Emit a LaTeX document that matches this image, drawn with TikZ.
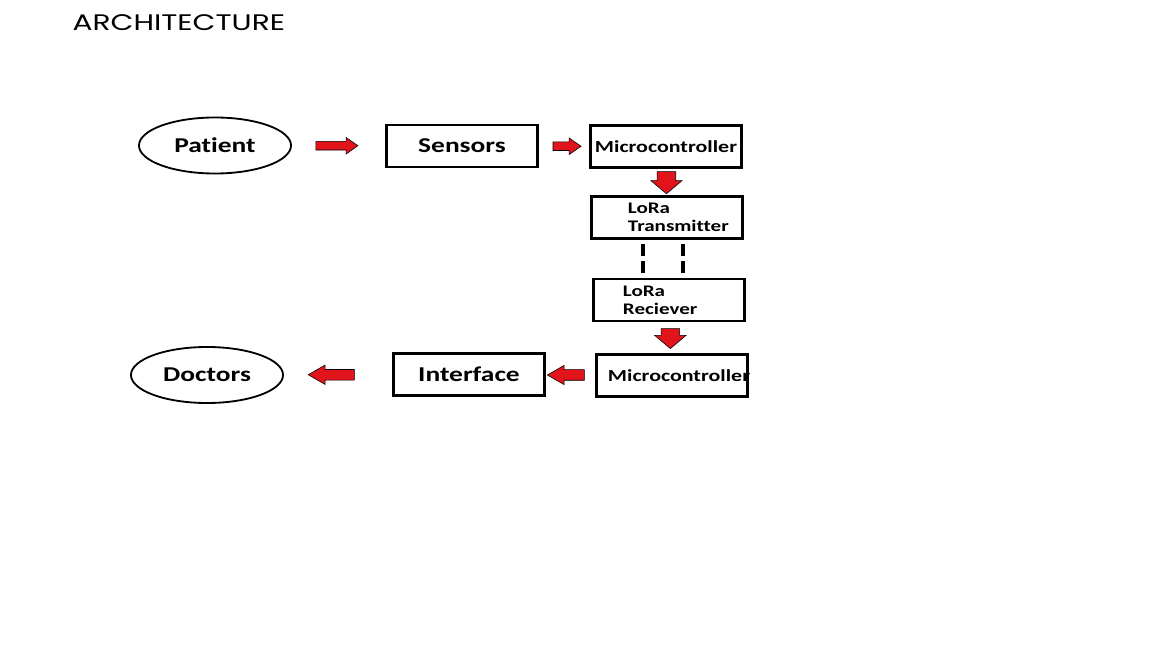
\documentclass[tikz,border=0pt]{standalone}
\usepackage{fontspec}
\setmainfont{Carlito}[FakeStretch=1.3, Ligatures=NoCommon]
\newfontfamily\titlefont{Poppins}[FakeStretch=1.32]
\usetikzlibrary{shapes.geometric, shapes.arrows}
\definecolor{flowred}{RGB}{225,20,28}

\begin{document}
\begin{tikzpicture}[
            x = 0.025cm, % one unit per pixel of the slide
            y = -0.025cm,
            font = \bfseries,
            thick
        ]

        \tikzstyle{party}=[
            ellipse,
            draw = black,
            line width = 1.3pt,
            minimum width = 3.8cm,
            minimum height = 1.4cm,
            font = \bfseries\fontsize{15}{18}\selectfont
        ]
        \tikzstyle{block}=[
            rectangle,
            draw = black,
            line width = 1.8pt,
            minimum width = 3.78cm,
            minimum height = 1.05cm
        ]
        \tikzstyle{flow}=[
            single arrow,
            draw = black,
            fill = flowred,
            thin,
            inner xsep = 0pt,
            single arrow head indent = 0pt
        ]
        \tikzstyle{radio}=[
            line width = 2.4pt,
            dash pattern = on 8.5pt off 3.5pt,
            shorten < = 2.8pt,
            shorten > = 1.5pt
        ]

        \useasboundingbox[fill = white] (0,0) rectangle (1152,648);

        \node[anchor = base west, inner sep = 0pt, font = \titlefont\mdseries\fontsize{16}{19}\selectfont] (title) at (72,31) {ARCHITECTURE};

        % patient side
        \node[party] (patient) at (215,145.5) {Patient};
        \node[block, font = \bfseries\fontsize{15}{18}\selectfont] (sensors) at (462,146) {Sensors};
        \node[block, font = \bfseries\fontsize{12}{14}\selectfont] (mcsend) at (666,146.5) {Microcontroller};
        \node[block, align = left, text width = 1.95cm, font = \bfseries\fontsize{11.5}{13}\selectfont] (tx) at (667,217.5) {LoRa\\Transmitter};

        % doctor side
        \node[block, align = left, text width = 2.3cm, font = \bfseries\fontsize{11.5}{13}\selectfont] (rx) at (669,300) {LoRa\\Reciever};
        \node[block, align = left, text width = 3.2cm, font = \bfseries\fontsize{12}{14}\selectfont] (mcrecv) at (672,375.5) {Microcontroller};
        \node[block, font = \bfseries\fontsize{15}{18}\selectfont] (interface) at (469,374.5) {Interface};
        \node[party] (doctors) at (207,375) {Doctors};

        % block arrows
        \path (patient) -- node[flow, pos = 0.45, minimum height = 1.05cm, inner ysep = 0.1cm, single arrow head extend = 0.1cm, single arrow tip angle = 70] {} (sensors);
        \path (sensors) -- node[flow, minimum height = 0.7cm, inner ysep = 0.1cm, single arrow head extend = 0.1cm, single arrow tip angle = 70] {} (mcsend);
        \path (mcsend) -- node[flow, pos = 0.38, rotate = -90, minimum height = 0.55cm, inner ysep = 0.225cm, single arrow head extend = 0.16cm, single arrow tip angle = 100] {} (tx);
        \path (rx) -- node[flow, pos = 0.4, rotate = -90, minimum height = 0.5cm, inner ysep = 0.225cm, single arrow head extend = 0.16cm, single arrow tip angle = 100] {} (mcrecv);
        \path (mcrecv) -- node[flow, rotate = 180, minimum height = 0.925cm, inner ysep = 0.125cm, single arrow head extend = 0.11cm, single arrow tip angle = 60] {} (interface);
        \path (interface) -- node[flow, rotate = 180, pos = 0.52, minimum height = 1.15cm, inner ysep = 0.125cm, single arrow head extend = 0.11cm, single arrow tip angle = 60] {} (doctors);

        % radio link
        \draw[radio] ([xshift = -0.6cm]tx.south) -- ([xshift = -0.6cm]tx.south |- rx.north);
        \draw[radio] ([xshift = 0.4cm]tx.south) -- ([xshift = 0.4cm]tx.south |- rx.north);
    \end{tikzpicture}
\end{document}
